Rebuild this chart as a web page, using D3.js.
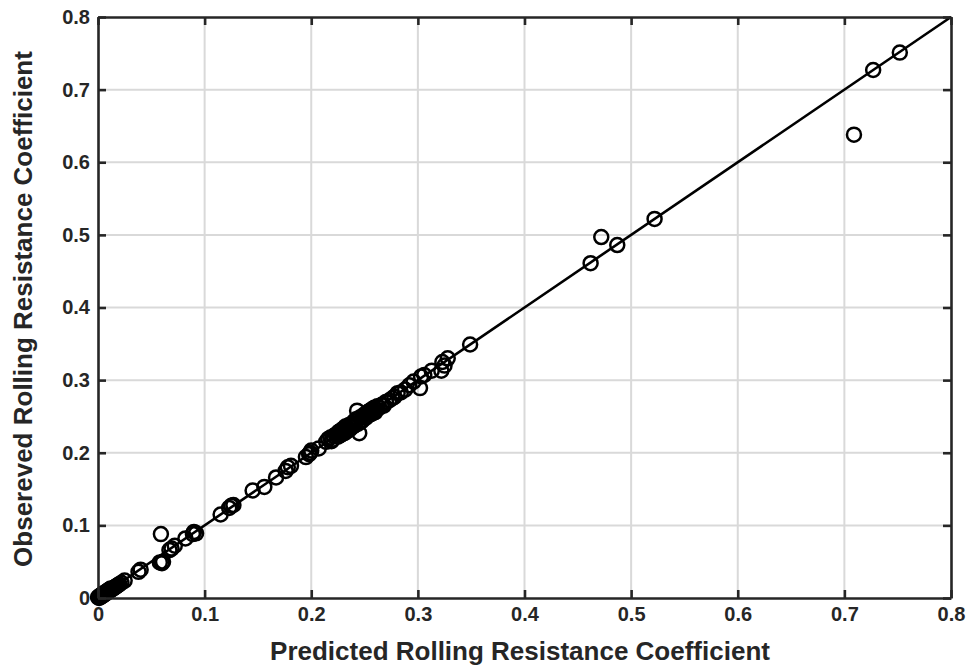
<!DOCTYPE html>
<html>
<head>
<meta charset="utf-8">
<script src="https://cdn.jsdelivr.net/npm/d3@7"></script>
<style>
  html, body { margin: 0; padding: 0; background: #fff; }
  svg { display: block; }
  text { font-family: "Liberation Sans", Arial, sans-serif; font-weight: bold; fill: #262626; }
</style>
</head>
<body>
<svg id="chart" width="979" height="666"></svg>
<script>
const predicted = [
  0.000,0.001,0.001,0.002,0.002,0.003,0.003,0.004,0.004,0.005,
  0.005,0.006,0.006,0.007,0.007,0.008,0.008,0.009,0.009,0.010,
  0.010,0.011,0.011,0.012,0.012,0.013,0.014,0.015,0.016,0.017,
  0.018,0.019,0.020,0.022,0.025,
  0.038,0.040,0.058,0.060,0.061,0.059,0.067,0.069,0.072,0.082,0.089,0.090,0.092,
  0.115,0.123,0.125,0.127,0.145,0.156,0.167,0.176,0.178,0.181,0.195,0.198,0.199,0.200,0.207,
  0.214,0.216,0.218,0.219,0.220,0.221,0.223,0.225,0.226,0.227,
  0.228,0.229,0.230,0.231,0.232,0.233,0.234,0.235,0.236,0.237,
  0.238,0.239,0.240,0.241,0.242,0.243,0.244,0.245,0.246,0.247,
  0.248,0.249,0.250,0.251,0.252,0.253,0.254,0.255,0.256,0.257,
  0.258,0.259,0.260,0.261,0.262,0.264,0.266,0.268,0.270,0.273,
  0.276,0.278,0.281,
  0.284,0.288,0.292,0.296,0.302,0.303,0.306,0.313,0.322,0.325,0.328,0.323,0.349,
  0.462,0.472,0.487,0.522,0.709,0.727,0.752];
const observed = [
  0.001,0.000,0.002,0.001,0.003,0.002,0.004,0.003,0.005,0.004,
  0.006,0.005,0.007,0.006,0.008,0.007,0.009,0.008,0.010,0.009,
  0.011,0.010,0.012,0.011,0.013,0.012,0.013,0.014,0.015,0.016,
  0.017,0.018,0.019,0.021,0.024,
  0.036,0.039,0.049,0.048,0.050,0.088,0.066,0.068,0.072,0.082,0.088,0.091,0.089,
  0.115,0.124,0.127,0.128,0.148,0.153,0.166,0.175,0.180,0.182,0.194,0.198,0.200,0.203,0.206,
  0.215,0.219,0.221,0.216,0.218,0.223,0.225,0.222,0.229,0.224,
  0.231,0.226,0.233,0.227,0.236,0.229,0.232,0.238,0.232,0.235,
  0.240,0.236,0.243,0.238,0.246,0.258,0.240,0.227,0.249,0.243,
  0.245,0.251,0.253,0.248,0.250,0.256,0.252,0.258,0.253,0.260,
  0.255,0.262,0.256,0.260,0.264,0.262,0.266,0.265,0.270,0.272,
  0.275,0.277,0.282,
  0.283,0.287,0.293,0.298,0.289,0.305,0.307,0.313,0.313,0.320,0.330,0.325,0.349,
  0.461,0.497,0.486,0.522,0.638,0.727,0.751];
const xTicks = [0,0.1,0.2,0.3,0.4,0.5,0.6,0.7,0.8];
const yTicks = [0,0.1,0.2,0.3,0.4,0.5,0.6,0.7,0.8];
const xTickLabels = ["0","0.1","0.2","0.3","0.4","0.5","0.6","0.7","0.8"];
const yTickLabels = ["0","0.1","0.2","0.3","0.4","0.5","0.6","0.7","0.8"];
const xTitle = "Predicted Rolling Resistance Coefficient";
const yTitle = "Obsereved Rolling Resistance Coefficient";

const svg = d3.select("#chart");
const L = 98, R = 951, T = 17, B = 598;
const x = d3.scaleLinear().domain([0, 0.8]).range([L, R]);
const y = d3.scaleLinear().domain([0, 0.8]).range([B, T]);
const axisColor = "#262626";

// grid
const g = svg.append("g");
g.selectAll("line.gx").data(xTicks.slice(1, -1)).join("line")
  .attr("x1", d => x(d)).attr("x2", d => x(d)).attr("y1", T).attr("y2", B)
  .attr("stroke", "#d9d9d9").attr("stroke-width", 2);
g.selectAll("line.gy").data(yTicks.slice(1, -1)).join("line")
  .attr("y1", d => y(d)).attr("y2", d => y(d)).attr("x1", L).attr("x2", R)
  .attr("stroke", "#d9d9d9").attr("stroke-width", 2);

// diagonal line
svg.append("line")
  .attr("x1", x(0)).attr("y1", y(0)).attr("x2", x(0.8)).attr("y2", y(0.8))
  .attr("stroke", "#000").attr("stroke-width", 2.6);

// points
const n = Math.min(predicted.length, observed.length);
svg.append("g").selectAll("circle").data(d3.range(n).map(i => [predicted[i], observed[i]])).join("circle")
  .attr("cx", d => x(d[0])).attr("cy", d => y(d[1])).attr("r", 7)
  .attr("fill", "none").attr("stroke", "#000").attr("stroke-width", 2.5);

// axes
const tickLen = 8;
const xAxisB = d3.axisBottom(x).tickValues(xTicks).tickFormat((d, i) => xTickLabels[i]).tickSizeInner(-tickLen).tickSizeOuter(0).tickPadding(9);
const xAxisT = d3.axisTop(x).tickValues(xTicks).tickFormat("").tickSizeInner(-tickLen).tickSizeOuter(0);
const yAxisL = d3.axisLeft(y).tickValues(yTicks).tickFormat((d, i) => yTickLabels[i]).tickSizeInner(-tickLen).tickSizeOuter(0).tickPadding(8);
const yAxisR = d3.axisRight(y).tickValues(yTicks).tickFormat("").tickSizeInner(-tickLen).tickSizeOuter(0);

function style(sel) {
  sel.select(".domain").attr("stroke", axisColor).attr("stroke-width", 2.6);
  sel.selectAll(".tick line").attr("stroke", axisColor).attr("stroke-width", 2.6);
  sel.selectAll(".tick text").attr("fill", axisColor).style("font-size", "20px").style("font-family", "'Liberation Sans', Arial, sans-serif").style("font-weight", "bold");
}
svg.append("g").attr("transform", `translate(0,${B})`).call(xAxisB).call(style);
svg.append("g").attr("transform", `translate(0,${T})`).call(xAxisT).call(style);
svg.append("g").attr("transform", `translate(${L},0)`).call(yAxisL).call(style);
svg.append("g").attr("transform", `translate(${R},0)`).call(yAxisR).call(style);

// titles
svg.append("text").attr("x", 520).attr("y", 660).attr("text-anchor", "middle")
  .style("font-size", "26px").text(xTitle);
svg.append("text").attr("transform", `translate(32,${309}) rotate(-90)`).attr("text-anchor", "middle")
  .style("font-size", "26px").text(yTitle);
</script>
</body>
</html>
